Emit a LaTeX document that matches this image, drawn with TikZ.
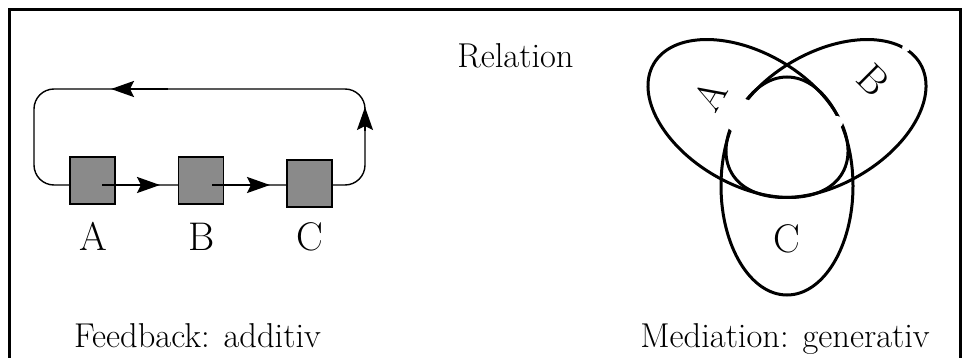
\documentclass[tikz,border=0pt]{standalone}
\usetikzlibrary{arrows.meta}
\definecolor{boxgray}{RGB}{138,138,138}
\begin{document}
\begin{tikzpicture}[x=1pt,y=1pt,
  outerframe/.style={line width=3pt},
  loopline/.style={line width=1.4pt, rounded corners=20pt},
  greybox/.style={draw, line width=1.4pt, fill=boxgray, minimum width=45pt, minimum height=47pt, inner sep=0pt},
  flowarrow/.style={line width=2.4pt, -{Stealth[length=23pt,width=16pt,inset=4pt]}},
  turnarrow/.style={line width=1.4pt, -{Stealth[length=23pt,width=16pt,inset=4pt]}},
  ringline/.style={line width=3pt},
  gapfill/.style={fill=white},
  lbl/.style={inner sep=0pt, font=\fontsize{40}{48}\selectfont},
  captxt/.style={inner sep=0pt, font=\fontsize{34.5}{40}\selectfont}
]
\useasboundingbox (0,0) rectangle (963,357);

% outer frame, open at the bottom
\draw[outerframe] (9.5,-5) -- (9.5,347.5) -- (960.5,347.5) -- (960.5,-5);

% ---- feedback loop ----
\draw[loopline] (34,172) rectangle (365,268);
\node[greybox] (bA) at (92.5,176.5) {};
\node[greybox] (bB) at (201,176.5) {};
\node[greybox] (bC) at (309.5,173.5) {};

\coordinate (a1) at (102,172);
\coordinate (a2) at (160,172);
\coordinate (b1) at (212,172);
\coordinate (b2) at (270,172);
\coordinate (t1) at (168,268);
\coordinate (t2) at (111,268);
\coordinate (r1) at (365,226);
\coordinate (r2) at (365,250);
\draw[flowarrow] (a1) -- (a2);
\draw[flowarrow] (b1) -- (b2);
\draw[flowarrow] (t1) -- (t2);
\draw[turnarrow] (r1) -- (r2);

\node[lbl, anchor=base] (lA) at (93.5,107) {A};
\node[lbl, anchor=base] (lB) at (202,107) {B};
\node[lbl, anchor=base] (lC) at (310,107) {C};

% ---- three interlocking ellipses ----
\draw[ringline, shift={(748,238.5)}, rotate=-30] (0,0) ellipse [x radius=109, y radius=66];
\draw[ringline, shift={(826,238.5)}, rotate=30] (0,0) ellipse [x radius=109, y radius=66];
\draw[ringline] (787,171) ellipse [x radius=66, y radius=109];

% breaks in the outlines
\fill[gapfill] (741,241) circle [radius=17.5];
\fill[gapfill] (837,235) circle [radius=6];
\fill[gapfill] (906,309) circle [radius=4];

\node[lbl, rotate=60] (eA) at (710,262) {A};
\node[lbl, rotate=-45] (eB) at (873,277) {B};
\node[lbl, anchor=base] (eC) at (787,105) {C};

% ---- captions ----
\node[captxt, anchor=base] (ttl) at (515.5,290) {Relation};
\node[captxt, anchor=base] (fb) at (197.5,10) {Feedback: additiv};
\node[captxt, anchor=base] (md) at (785,10) {Mediation: generativ};
\end{tikzpicture}
\end{document}
